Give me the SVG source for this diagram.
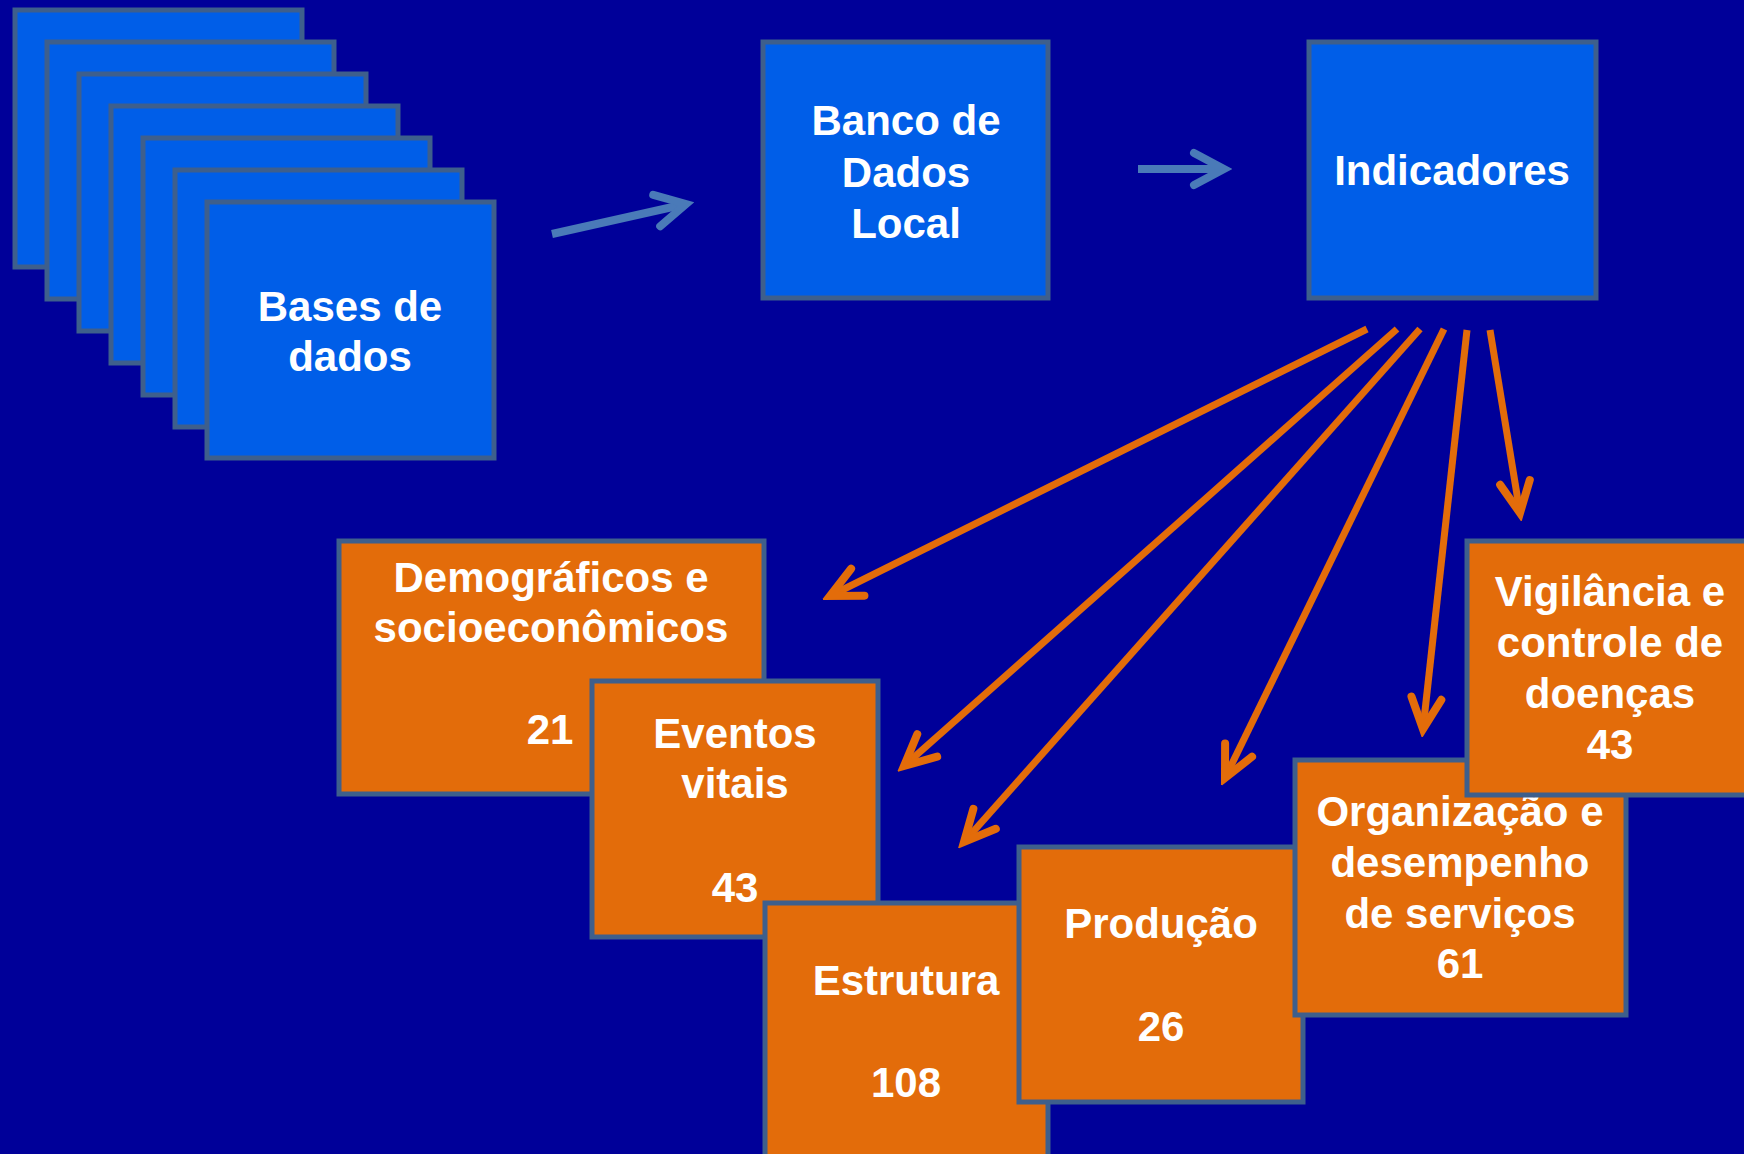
<svg xmlns="http://www.w3.org/2000/svg" width="1744" height="1154" viewBox="0 0 1744 1154">
<defs>
<style>
.bg{fill:#000099}
.blue{fill:#005EE8;stroke:#3E5F8C;stroke-width:5}
.orange{fill:#E36C0A;stroke:#3E5F8C;stroke-width:5}
.t{font-family:"Liberation Sans",Arial,Helvetica,sans-serif;font-weight:bold;font-size:42px;fill:#FFFFFF;text-anchor:middle}
.ba{stroke:#4A7AB8;stroke-width:8;fill:none}
.oa{stroke:#E36C0A;stroke-width:7;fill:none}
</style>
<marker id="mb" markerUnits="userSpaceOnUse" viewBox="-44 -24 52 48" refX="0" refY="0" markerWidth="52" markerHeight="48" orient="auto">
<path d="M-30,-16 L0,0 L-30,16" fill="none" stroke="#4A7AB8" stroke-width="8" stroke-linecap="round" stroke-linejoin="miter" stroke-miterlimit="10"/>
</marker>
<marker id="mo" markerUnits="userSpaceOnUse" viewBox="-44 -24 52 48" refX="0" refY="0" markerWidth="52" markerHeight="48" orient="auto">
<path d="M-31,-15 L0,0 L-31,15" fill="none" stroke="#E36C0A" stroke-width="8" stroke-linecap="round" stroke-linejoin="miter" stroke-miterlimit="10"/>
</marker>
</defs>
<rect class="bg" x="0" y="0" width="1744" height="1154"/>

<g id="bases">
<rect class="blue" x="15" y="10" width="287" height="257"/>
<rect class="blue" x="47" y="42" width="287" height="257"/>
<rect class="blue" x="79" y="74" width="287" height="257"/>
<rect class="blue" x="111" y="106" width="287" height="257"/>
<rect class="blue" x="143" y="138" width="287" height="257"/>
<rect class="blue" x="175" y="170" width="287" height="257"/>
<rect class="blue" x="207" y="202" width="287" height="256"/>
<text class="t" x="350" y="321">Bases de</text>
<text class="t" x="350" y="371">dados</text>
</g>

<g id="banco">
<rect class="blue" x="763" y="42" width="285" height="256"/>
<text class="t" x="906" y="135">Banco de</text>
<text class="t" x="906" y="187">Dados</text>
<text class="t" x="906" y="238">Local</text>
</g>

<g id="indicadores">
<rect class="blue" x="1309" y="42" width="287" height="256"/>
<text class="t" x="1452" y="185">Indicadores</text>
</g>

<g id="demograficos">
<rect class="orange" x="339" y="541" width="425" height="253"/>
<text class="t" x="551" y="592">Demográficos e</text>
<text class="t" x="551" y="642">socioeconômicos</text>
<text class="t" x="550" y="744">21</text>
</g>

<g id="eventos">
<rect class="orange" x="592" y="681" width="286" height="256"/>
<text class="t" x="735" y="748">Eventos</text>
<text class="t" x="735" y="798">vitais</text>
<text class="t" x="735" y="902">43</text>
</g>

<g id="estrutura">
<rect class="orange" x="765" y="903" width="283" height="270"/>
<text class="t" x="906" y="995">Estrutura</text>
<text class="t" x="906" y="1097">108</text>
</g>

<g id="producao">
<rect class="orange" x="1019" y="847" width="284" height="255"/>
<text class="t" x="1161" y="938">Produção</text>
<text class="t" x="1161" y="1041">26</text>
</g>

<g id="organizacao">
<rect class="orange" x="1295" y="760" width="331" height="255"/>
<text class="t" x="1460" y="826">Organização e</text>
<text class="t" x="1460" y="877">desempenho</text>
<text class="t" x="1460" y="928">de serviços</text>
<text class="t" x="1460" y="978">61</text>
</g>

<g id="vigilancia">
<rect class="orange" x="1467" y="541" width="285" height="254"/>
<text class="t" x="1610" y="606">Vigilância e</text>
<text class="t" x="1610" y="657">controle de</text>
<text class="t" x="1610" y="708">doenças</text>
<text class="t" x="1610" y="759">43</text>
</g>

<g id="connectors">
<line class="ba" x1="552" y1="234" x2="686" y2="204" marker-end="url(#mb)"/>
<line class="ba" x1="1138" y1="169" x2="1224" y2="169" marker-end="url(#mb)"/>
<line class="oa" x1="1367" y1="329" x2="830" y2="596" marker-end="url(#mo)"/>
<line class="oa" x1="1397" y1="329" x2="904" y2="766" marker-end="url(#mo)"/>
<line class="oa" x1="1420" y1="329" x2="964" y2="842" marker-end="url(#mo)"/>
<line class="oa" x1="1444" y1="329" x2="1225" y2="778" marker-end="url(#mo)"/>
<line class="oa" x1="1467" y1="330" x2="1423" y2="729" marker-end="url(#mo)"/>
<line class="oa" x1="1490" y1="330" x2="1520" y2="513" marker-end="url(#mo)"/>
</g>
</svg>
